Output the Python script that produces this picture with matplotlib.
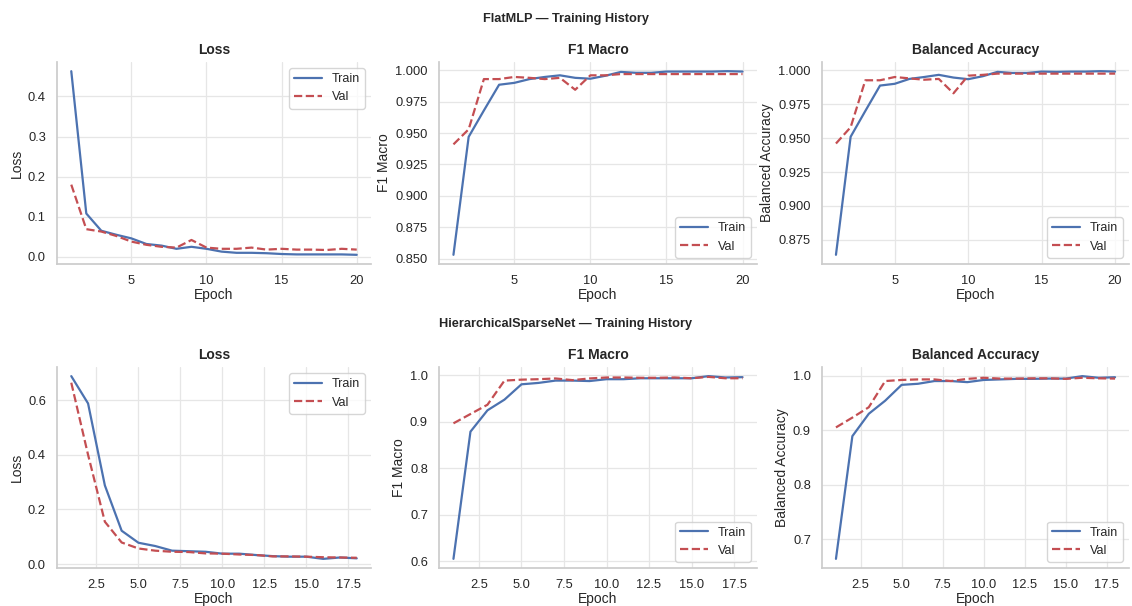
import matplotlib
matplotlib.use("Agg")
import matplotlib.pyplot as plt
from matplotlib.ticker import MultipleLocator
import numpy as np
import seaborn as sns

# FlatMLP history (20 epochs)
flat_epochs = np.arange(1, 21)
flat_train_loss = [0.463, 0.108, 0.065, 0.055, 0.046, 0.032, 0.028, 0.020, 0.025, 0.020,
                   0.013, 0.010, 0.010, 0.009, 0.007, 0.006, 0.006, 0.006, 0.006, 0.005]
flat_val_loss = [0.180, 0.069, 0.063, 0.052, 0.038, 0.030, 0.025, 0.023, 0.042, 0.023,
                 0.020, 0.020, 0.023, 0.018, 0.020, 0.018, 0.018, 0.017, 0.020, 0.018]
flat_train_f1 = [0.853, 0.947, 0.968, 0.9885, 0.990, 0.993, 0.9947, 0.996, 0.994, 0.9933,
                 0.9957, 0.9987, 0.998, 0.998, 0.999, 0.999, 0.999, 0.999, 0.9993, 0.999]
flat_val_f1 = [0.941, 0.953, 0.993, 0.993, 0.9947, 0.994, 0.993, 0.994, 0.9845, 0.996,
               0.996, 0.997, 0.997, 0.997, 0.997, 0.997, 0.997, 0.997, 0.997, 0.997]
flat_train_bacc = [0.864, 0.951, 0.970, 0.9887, 0.990, 0.9936, 0.995, 0.9966, 0.9946, 0.9934,
                   0.9956, 0.9988, 0.998, 0.998, 0.999, 0.9988, 0.999, 0.999, 0.9993, 0.999]
flat_val_bacc = [0.946, 0.958, 0.9926, 0.9926, 0.995, 0.994, 0.993, 0.9936, 0.983, 0.996,
                 0.9966, 0.9975, 0.9975, 0.9975, 0.9975, 0.9975, 0.9975, 0.9975, 0.9975, 0.9975]

# HierarchicalSparseNet history (18 epochs)
hier_epochs = np.arange(1, 19)
hier_train_loss = [0.688, 0.588, 0.288, 0.122, 0.078, 0.066, 0.049, 0.047, 0.045, 0.038,
                   0.038, 0.033, 0.029, 0.027, 0.027, 0.019, 0.024, 0.021]
hier_val_loss = [0.664, 0.400, 0.155, 0.079, 0.057, 0.049, 0.045, 0.044, 0.039, 0.038,
                 0.035, 0.033, 0.028, 0.028, 0.027, 0.025, 0.024, 0.023]
hier_train_f1 = [0.605, 0.879, 0.925, 0.948, 0.981, 0.984, 0.989, 0.989, 0.988, 0.992,
                 0.992, 0.994, 0.994, 0.994, 0.994, 0.9986, 0.9957, 0.9964]
hier_val_f1 = [0.897, 0.917, 0.937, 0.989, 0.991, 0.992, 0.9936, 0.990, 0.9936, 0.9957,
               0.9957, 0.995, 0.995, 0.9957, 0.994, 0.997, 0.994, 0.994]
hier_train_bacc = [0.664, 0.889, 0.930, 0.954, 0.983, 0.985, 0.990, 0.990, 0.988, 0.992,
                   0.993, 0.994, 0.994, 0.9945, 0.9945, 0.999, 0.996, 0.997]
hier_val_bacc = [0.905, 0.923, 0.942, 0.990, 0.992, 0.993, 0.993, 0.990, 0.994, 0.996,
                 0.9945, 0.9945, 0.995, 0.995, 0.994, 0.996, 0.995, 0.9945]

MODELS = [
    ("FlatMLP", flat_epochs,
     [(flat_train_loss, flat_val_loss), (flat_train_f1, flat_val_f1), (flat_train_bacc, flat_val_bacc)],
     5, [0.1, 0.025, 0.025]),
    ("HierarchicalSparseNet", hier_epochs,
     [(hier_train_loss, hier_val_loss), (hier_train_f1, hier_val_f1), (hier_train_bacc, hier_val_bacc)],
     2.5, [0.2, 0.1, 0.1]),
]
METRIC_NAMES = ["Loss", "F1 Macro", "Balanced Accuracy"]

sns.set_theme(style="whitegrid")
plt.rcParams["font.family"] = ["Liberation Sans", "DejaVu Sans"]

W, H = 1132, 606
fig = plt.figure(figsize=(W / 100, H / 100), dpi=100)

# axes boxes in pixels: left, right; rows: top, bottom
col_x = [(57, 371), (439, 757), (822, 1129)]
row_y = [(62, 264), (367, 568)]
title_y = [19, 324]

for row, (model_name, epochs, pairs, xstep, ysteps) in enumerate(MODELS):
    fig.text(0.5, 1 - title_y[row] / H, f"{model_name} \u2014 Training History",
             ha="center", va="center", fontsize=9.2, fontweight="bold", color="#262626")
    top, bottom = row_y[row]
    for col, ((train, val), name) in enumerate(zip(pairs, METRIC_NAMES)):
        left, right = col_x[col]
        ax = fig.add_axes([left / W, 1 - bottom / H, (right - left) / W, (bottom - top) / H])
        ax.plot(epochs, train, color="#4C72B0", linewidth=1.6, label="Train")
        ax.plot(epochs, val, color="#C44E52", linewidth=1.6, linestyle="--", label="Val")
        ax.xaxis.set_major_locator(MultipleLocator(xstep))
        ax.yaxis.set_major_locator(MultipleLocator(ysteps[col]))
        ax.set_title(name, fontsize=10, fontweight="bold", pad=6)
        ax.set_xlabel("Epoch", fontsize=10, labelpad=1)
        ax.set_ylabel(name, fontsize=10, labelpad=3)
        ax.tick_params(labelsize=9.3, pad=2)
        ax.grid(True, color="#e6e6e6", linewidth=0.9)
        loc = "upper right" if col == 0 else "lower right"
        ax.legend(loc=loc, fontsize=9, frameon=True, handlelength=2.2)
        sns.despine(ax=ax)

fig.savefig("out.png", dpi=100)
